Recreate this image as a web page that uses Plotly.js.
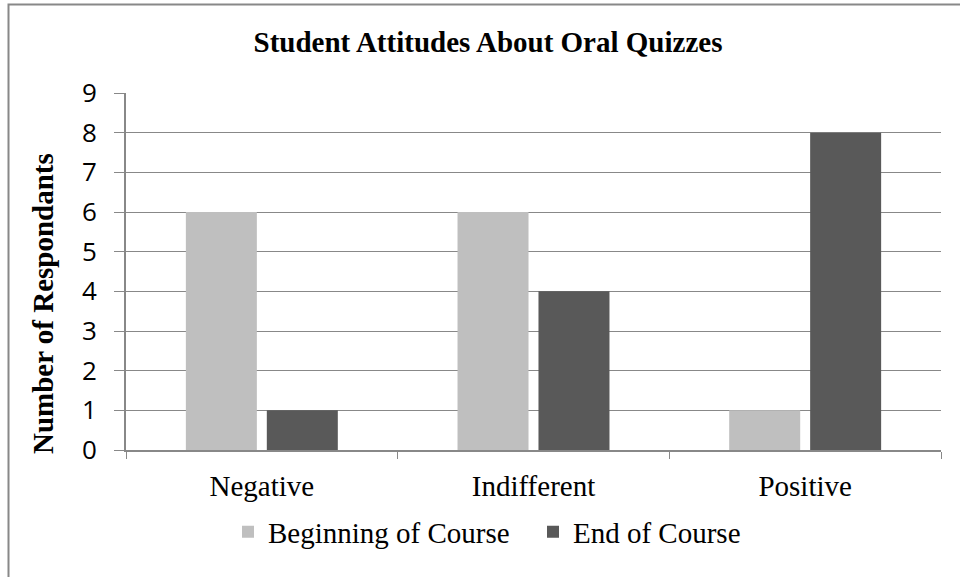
<!DOCTYPE html>
<html>
<head>
<meta charset="utf-8">
<script src="https://cdn.plot.ly/plotly-3.0.1.min.js"></script>
<style>html,body{margin:0;padding:0;background:#fff;overflow:hidden;}#chart{width:960px;height:577px;}</style>
</head>
<body>
<div id="chart"></div>
<script>
const categories = ["Negative", "Indifferent", "Positive"];
const beginningValues = [6, 6, 1];
const endValues = [1, 4, 8];
const seriesNames = ["Beginning of Course", "End of Course"];
const yTicks = [0,1,2,3,4,5,6,7,8,9];
const yTitle = "Number of Respondants";

const serif = "Liberation Serif, Times New Roman, serif";
const sans = "Open Sans, sans-serif";
const gray = "#888888";

const data = [
  {type: "bar", name: seriesNames[0], x: categories, y: beginningValues, marker: {color: "#BFBFBF"}, hoverinfo: "skip"},
  {type: "bar", name: seriesNames[1], x: categories, y: endValues, marker: {color: "#595959"}, hoverinfo: "skip"}
];

const ml = 126, mr = 19, mt = 93, mb = 127;
const pw = 960 - ml - mr, ph = 577 - mt - mb;
const px = v => (v - ml) / pw;
const py = v => (577 - mb - v) / ph;

const layout = {
  width: 960, height: 577,
  margin: {l: ml, r: mr, t: mt, b: mb},
  paper_bgcolor: "#fff", plot_bgcolor: "#fff",
  barmode: "group", bargap: 0.404, bargroupgap: 0.123,
  showlegend: true,
  title: {text: "<b>Student Attitudes About Oral Quizzes</b>", font: {family: serif, size: 29, color: "#000"}, x: 488/960, xref: "container", xanchor: "center", y: 1 - 42/577, yref: "container", yanchor: "middle"},
  xaxis: {
    type: "category", tickson: "boundaries", ticks: "outside", ticklen: 7, tickcolor: gray,
    showline: true, linecolor: gray, linewidth: 2, showgrid: false,
    tickfont: {family: serif, size: 29, color: "#000"}, ticklabelstandoff: 9,
    fixedrange: true
  },
  yaxis: {
    range: [0, 9], tickvals: yTicks, ticktext: yTicks.map(String),
    ticks: "outside", ticklen: 10, tickcolor: gray,
    showline: true, linecolor: gray, linewidth: 2,
    showgrid: true, gridcolor: gray, gridwidth: 1, zeroline: false,
    tickfont: {family: sans, size: 26, color: "#000"}, ticklabelstandoff: 12,
    automargin: false, fixedrange: true
  },
  annotations: [{text: "<b>" + yTitle + "</b>", xref: "paper", yref: "paper", x: px(43), y: py(304), xanchor: "center", yanchor: "middle", textangle: -90, showarrow: false, font: {family: serif, size: 29, color: "#000"}}],
  legend: {orientation: "h", x: px(228), xanchor: "left", y: py(532), yanchor: "middle",
    entrywidth: 260, entrywidthmode: "pixels",
    font: {family: serif, size: 29, color: "#000"}, itemwidth: 30, traceorder: "normal", bgcolor: "rgba(0,0,0,0)"},
  shapes: [{type: "rect", xref: "paper", yref: "paper", x0: px(8.5), x1: px(1000), y0: py(620), y1: py(4.5), line: {color: gray, width: 2}, fillcolor: "rgba(0,0,0,0)", layer: "below"}]
};

Plotly.newPlot("chart", data, layout, {displayModeBar: false, staticPlot: true});
</script>
</body>
</html>
